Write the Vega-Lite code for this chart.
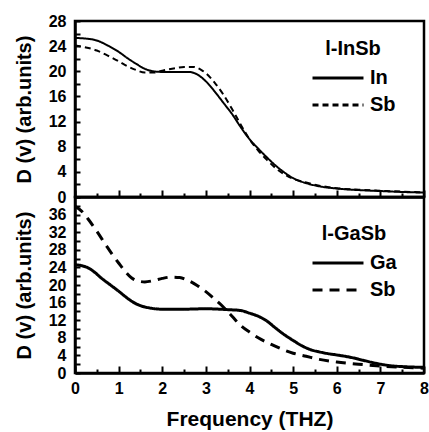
{
  "$schema": "https://vega.github.io/schema/vega-lite/v6.json",
  "padding": {"left": 12, "top": 11, "right": 0, "bottom": 0},
  "background": "white",
  "bounds": "flush",
  "config": {
    "font": "Liberation Sans",
    "view": {"stroke": "black", "strokeWidth": 2.5},
    "axis": {
      "grid": false,
      "domainColor": "black",
      "domainWidth": 2.5,
      "tickColor": "black",
      "tickWidth": 2,
      "labelFont": "Liberation Sans",
      "labelFontSize": 16,
      "labelFontWeight": "bold",
      "labelColor": "black",
      "labelFlush": false,
      "labelOverlap": false,
      "titleFont": "Liberation Sans",
      "titleFontSize": 20,
      "titleFontWeight": "bold",
      "titleColor": "black"
    },
    "legend": {
      "orient": "none",
      "legendX": 236,
      "titleFont": "Liberation Sans",
      "titleFontSize": 20,
      "titleFontWeight": "bold",
      "titleColor": "black",
      "titleAnchor": "middle",
      "labelFont": "Liberation Sans",
      "labelFontSize": 20,
      "labelFontWeight": "bold",
      "labelColor": "black",
      "labelOffset": 5,
      "symbolType": "stroke",
      "symbolSize": 2600,
      "symbolStrokeWidth": 3,
      "symbolStrokeColor": "black",
      "clipHeight": 20,
      "rowPadding": 7,
      "titlePadding": 9
    }
  },
  "resolve": {"scale": {"strokeDash": "independent"}, "legend": {"strokeDash": "independent"}},
  "datasets": {
    "top": [
      {"f": 0, "v": 25.3, "s": "In"}, {"f": 0.25, "v": 25.2, "s": "In"}, {"f": 0.5, "v": 24.9, "s": "In"}, {"f": 0.75, "v": 24.1, "s": "In"}, {"f": 1.0, "v": 23.1, "s": "In"}, {"f": 1.2, "v": 22.1, "s": "In"}, {"f": 1.4, "v": 21.2, "s": "In"}, {"f": 1.6, "v": 20.4, "s": "In"}, {"f": 1.8, "v": 20.0, "s": "In"}, {"f": 2.0, "v": 19.9, "s": "In"}, {"f": 2.3, "v": 19.9, "s": "In"}, {"f": 2.6, "v": 19.9, "s": "In"}, {"f": 2.8, "v": 19.5, "s": "In"}, {"f": 3.0, "v": 18.4, "s": "In"}, {"f": 3.2, "v": 16.8, "s": "In"}, {"f": 3.4, "v": 15.0, "s": "In"}, {"f": 3.6, "v": 13.2, "s": "In"}, {"f": 3.8, "v": 11.1, "s": "In"}, {"f": 4.0, "v": 9.2, "s": "In"}, {"f": 4.2, "v": 7.7, "s": "In"}, {"f": 4.4, "v": 6.3, "s": "In"}, {"f": 4.6, "v": 5.0, "s": "In"}, {"f": 4.8, "v": 3.9, "s": "In"}, {"f": 5.0, "v": 3.0, "s": "In"}, {"f": 5.3, "v": 2.2, "s": "In"}, {"f": 5.6, "v": 1.7, "s": "In"}, {"f": 6.0, "v": 1.35, "s": "In"}, {"f": 6.5, "v": 1.1, "s": "In"}, {"f": 7.0, "v": 0.95, "s": "In"}, {"f": 7.5, "v": 0.8, "s": "In"}, {"f": 8.0, "v": 0.7, "s": "In"},
      {"f": 0, "v": 24.1, "s": "Sb"}, {"f": 0.25, "v": 23.8, "s": "Sb"}, {"f": 0.5, "v": 23.3, "s": "Sb"}, {"f": 0.75, "v": 22.5, "s": "Sb"}, {"f": 1.0, "v": 21.6, "s": "Sb"}, {"f": 1.2, "v": 20.8, "s": "Sb"}, {"f": 1.4, "v": 20.2, "s": "Sb"}, {"f": 1.6, "v": 19.8, "s": "Sb"}, {"f": 1.8, "v": 19.8, "s": "Sb"}, {"f": 2.0, "v": 20.1, "s": "Sb"}, {"f": 2.3, "v": 20.5, "s": "Sb"}, {"f": 2.5, "v": 20.7, "s": "Sb"}, {"f": 2.7, "v": 20.7, "s": "Sb"}, {"f": 2.9, "v": 20.2, "s": "Sb"}, {"f": 3.0, "v": 19.7, "s": "Sb"}, {"f": 3.2, "v": 18.2, "s": "Sb"}, {"f": 3.4, "v": 16.3, "s": "Sb"}, {"f": 3.6, "v": 14.0, "s": "Sb"}, {"f": 3.8, "v": 11.5, "s": "Sb"}, {"f": 4.0, "v": 9.2, "s": "Sb"}, {"f": 4.2, "v": 7.4, "s": "Sb"}, {"f": 4.4, "v": 5.9, "s": "Sb"}, {"f": 4.6, "v": 4.6, "s": "Sb"}, {"f": 4.8, "v": 3.6, "s": "Sb"}, {"f": 5.0, "v": 2.9, "s": "Sb"}, {"f": 5.3, "v": 2.3, "s": "Sb"}, {"f": 5.6, "v": 1.8, "s": "Sb"}, {"f": 6.0, "v": 1.4, "s": "Sb"}, {"f": 6.5, "v": 1.15, "s": "Sb"}, {"f": 7.0, "v": 1.0, "s": "Sb"}, {"f": 7.5, "v": 0.85, "s": "Sb"}, {"f": 8.0, "v": 0.75, "s": "Sb"}
    ],
    "bottom": [
      {"f": 0, "v": 24.6, "s": "Ga"}, {"f": 0.15, "v": 24.4, "s": "Ga"}, {"f": 0.3, "v": 23.9, "s": "Ga"}, {"f": 0.45, "v": 22.9, "s": "Ga"}, {"f": 0.6, "v": 21.6, "s": "Ga"}, {"f": 0.8, "v": 20.1, "s": "Ga"}, {"f": 1.0, "v": 18.6, "s": "Ga"}, {"f": 1.15, "v": 17.4, "s": "Ga"}, {"f": 1.3, "v": 16.3, "s": "Ga"}, {"f": 1.5, "v": 15.3, "s": "Ga"}, {"f": 1.7, "v": 14.8, "s": "Ga"}, {"f": 2.0, "v": 14.5, "s": "Ga"}, {"f": 2.5, "v": 14.5, "s": "Ga"}, {"f": 3.0, "v": 14.6, "s": "Ga"}, {"f": 3.5, "v": 14.4, "s": "Ga"}, {"f": 3.8, "v": 14.2, "s": "Ga"}, {"f": 4.0, "v": 13.6, "s": "Ga"}, {"f": 4.2, "v": 12.9, "s": "Ga"}, {"f": 4.4, "v": 11.8, "s": "Ga"}, {"f": 4.6, "v": 10.2, "s": "Ga"}, {"f": 4.8, "v": 8.7, "s": "Ga"}, {"f": 5.0, "v": 7.4, "s": "Ga"}, {"f": 5.2, "v": 6.2, "s": "Ga"}, {"f": 5.4, "v": 5.3, "s": "Ga"}, {"f": 5.6, "v": 4.8, "s": "Ga"}, {"f": 5.8, "v": 4.4, "s": "Ga"}, {"f": 6.0, "v": 4.1, "s": "Ga"}, {"f": 6.3, "v": 3.6, "s": "Ga"}, {"f": 6.6, "v": 2.9, "s": "Ga"}, {"f": 6.9, "v": 2.2, "s": "Ga"}, {"f": 7.2, "v": 1.7, "s": "Ga"}, {"f": 7.6, "v": 1.4, "s": "Ga"}, {"f": 8.0, "v": 1.3, "s": "Ga"},
      {"f": 0, "v": 37.9, "s": "Sb"}, {"f": 0.15, "v": 36.8, "s": "Sb"}, {"f": 0.3, "v": 35.0, "s": "Sb"}, {"f": 0.5, "v": 32.2, "s": "Sb"}, {"f": 0.7, "v": 29.2, "s": "Sb"}, {"f": 0.85, "v": 27.0, "s": "Sb"}, {"f": 1.0, "v": 25.0, "s": "Sb"}, {"f": 1.15, "v": 23.1, "s": "Sb"}, {"f": 1.3, "v": 21.6, "s": "Sb"}, {"f": 1.45, "v": 20.9, "s": "Sb"}, {"f": 1.6, "v": 20.7, "s": "Sb"}, {"f": 1.8, "v": 21.0, "s": "Sb"}, {"f": 2.0, "v": 21.5, "s": "Sb"}, {"f": 2.2, "v": 21.8, "s": "Sb"}, {"f": 2.4, "v": 21.7, "s": "Sb"}, {"f": 2.6, "v": 21.0, "s": "Sb"}, {"f": 2.8, "v": 19.9, "s": "Sb"}, {"f": 3.0, "v": 18.5, "s": "Sb"}, {"f": 3.2, "v": 16.8, "s": "Sb"}, {"f": 3.4, "v": 15.0, "s": "Sb"}, {"f": 3.6, "v": 12.9, "s": "Sb"}, {"f": 3.8, "v": 10.8, "s": "Sb"}, {"f": 4.0, "v": 9.3, "s": "Sb"}, {"f": 4.2, "v": 8.0, "s": "Sb"}, {"f": 4.5, "v": 6.5, "s": "Sb"}, {"f": 4.8, "v": 5.2, "s": "Sb"}, {"f": 5.0, "v": 4.5, "s": "Sb"}, {"f": 5.3, "v": 3.8, "s": "Sb"}, {"f": 5.6, "v": 3.1, "s": "Sb"}, {"f": 6.0, "v": 2.5, "s": "Sb"}, {"f": 6.5, "v": 2.0, "s": "Sb"}, {"f": 7.0, "v": 1.6, "s": "Sb"}, {"f": 7.5, "v": 1.3, "s": "Sb"}, {"f": 8.0, "v": 1.1, "s": "Sb"}
    ]
  },
  "spacing": 0,
  "vconcat": [
    {
      "width": 349,
      "height": 176,
      "data": {"name": "top"},
      "layer": [
        {
          "mark": {"type": "line", "stroke": "black", "strokeWidth": 2, "interpolate": "monotone"},
          "encoding": {
            "x": {"field": "f", "type": "quantitative", "scale": {"domain": [0, 8], "nice": false},
                  "axis": {"values": [0, 1, 2, 3, 4, 5, 6, 7, 8], "labels": false, "tickSize": -7, "title": null}},
            "y": {"field": "v", "type": "quantitative", "scale": {"domain": [0, 28], "nice": false},
                  "axis": {"values": [0, 2, 4, 6, 8, 10, 12, 14, 16, 18, 20, 22, 24, 26, 28], "labelExpr": "datum.value % 4 == 0 ? datum.label : ''", "tickSize": -5, "labelPadding": 14, "title": "D (v) (arb.units)", "titlePadding": 14}},
            "strokeDash": {"field": "s", "type": "nominal", "scale": {"domain": ["In", "Sb"], "range": [[1, 0], [6, 4]]},
                  "legend": {"title": "l-InSb", "legendY": 18}}
          }
        },
        {
          "mark": {"type": "line", "opacity": 0},
          "encoding": {
            "x": {"field": "f", "type": "quantitative", "scale": {"domain": [0, 8], "nice": false},
                  "axis": {"orient": "bottom", "values": [0.5, 1.5, 2.5, 3.5, 4.5, 5.5, 6.5, 7.5], "labels": false, "domain": false, "tickSize": -4, "title": null}},
            "y": {"field": "v", "type": "quantitative", "axis": null},
            "detail": {"field": "s"}
          }
        }
      ],
      "resolve": {"axis": {"x": "independent", "y": "independent"}}
    },
    {
      "width": 349,
      "height": 176,
      "data": {"name": "bottom"},
      "layer": [
        {
          "mark": {"type": "line", "stroke": "black", "strokeWidth": 3, "interpolate": "monotone"},
          "encoding": {
            "x": {"field": "f", "type": "quantitative", "scale": {"domain": [0, 8], "nice": false},
                  "axis": {"values": [0, 1, 2, 3, 4, 5, 6, 7, 8], "tickSize": -7, "labelPadding": 14, "title": "Frequency (THZ)", "titleFontSize": 21, "titlePadding": 12}},
            "y": {"field": "v", "type": "quantitative", "scale": {"domain": [0, 40], "nice": false},
                  "axis": {"values": [0, 2, 4, 6, 8, 10, 12, 14, 16, 18, 20, 22, 24, 26, 28, 30, 32, 34, 36, 38, 40], "labelExpr": "datum.value % 4 == 0 && datum.value < 40 ? datum.label : ''", "tickSize": -5, "labelPadding": 14, "title": "D (v) (arb.units)", "titlePadding": 14}},
            "strokeDash": {"field": "s", "type": "nominal", "scale": {"domain": ["Ga", "Sb"], "range": [[1, 0], [10, 7]]},
                  "legend": {"title": "l-GaSb", "legendY": 27}}
          }
        },
        {
          "mark": {"type": "line", "opacity": 0},
          "encoding": {
            "x": {"field": "f", "type": "quantitative", "scale": {"domain": [0, 8], "nice": false},
                  "axis": {"orient": "bottom", "values": [0.5, 1.5, 2.5, 3.5, 4.5, 5.5, 6.5, 7.5], "labels": false, "domain": false, "tickSize": -4, "title": null}},
            "y": {"field": "v", "type": "quantitative", "axis": null},
            "detail": {"field": "s"}
          }
        }
      ],
      "resolve": {"axis": {"x": "independent", "y": "independent"}}
    }
  ]
}
